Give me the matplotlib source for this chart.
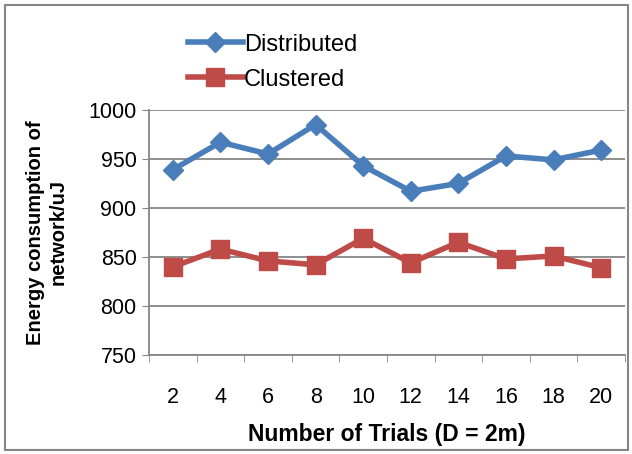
import matplotlib.pyplot as plt
from matplotlib.patches import Rectangle

trials = [2, 4, 6, 8, 10, 12, 14, 16, 18, 20]
distributed = [939, 967, 955, 985, 943, 917, 925, 953, 949, 959]
clustered = [840, 858, 846, 842, 869, 844, 865, 848, 851, 839]

plt.rcParams['font.family'] = ['Liberation Sans', 'DejaVu Sans']

fig = plt.figure(figsize=(6.32, 4.54), dpi=100)
ax = fig.add_axes([0.2358, 0.218, 0.753, 0.54])

pos = list(range(len(trials)))
ax.plot(pos, distributed, color="#4A7EBB", linewidth=4, marker="D", markersize=10.5,
        label="Distributed")
ax.plot(pos, clustered, color="#BE4B48", linewidth=4, marker="s", markersize=12.5,
        label="Clustered")

ax.set_ylim(750, 1000)
ax.set_yticks(range(750, 1001, 50))
ax.set_xlim(-0.5, len(trials) - 0.5)
ax.set_xticks(pos)
ax.set_xticklabels([str(t) for t in trials])
ax.set_xticks([p - 0.5 for p in pos] + [len(trials) - 0.5], minor=True)
ax.tick_params(axis="x", which="major", length=0, pad=23, labelsize=15.5)
ax.tick_params(axis="x", which="minor", length=5, color="#868686", direction="out")
ax.tick_params(axis="y", length=5, color="#868686", labelsize=15.5, pad=4)

ax.grid(axis="y", color="#868686", linewidth=1.3)
ax.set_axisbelow(True)
for s in ["top", "right"]:
    ax.spines[s].set_visible(False)
for s in ["left", "bottom"]:
    ax.spines[s].set_color("#868686")
    ax.spines[s].set_linewidth(1.3)

ax.set_xlabel("Number of Trials (D = 2m)", fontsize=16.5, fontweight="bold", labelpad=11)
ax.set_ylabel("Energy consumption of\nnetwork/uJ", fontsize=14.5, fontweight="bold",
              labelpad=15, linespacing=1.25)

fig.legend(loc="upper left", bbox_to_anchor=(0.298, 0.926), frameon=False,
           fontsize=17, handlelength=2.3, handletextpad=0.05, labelspacing=0.55,
           borderpad=0, borderaxespad=0)

fig.patches.append(Rectangle((0.008, 0.008), 0.985, 0.982, transform=fig.transFigure,
                             fill=False, edgecolor="#868686", linewidth=1.5))

fig.savefig("out.png", dpi=100)
